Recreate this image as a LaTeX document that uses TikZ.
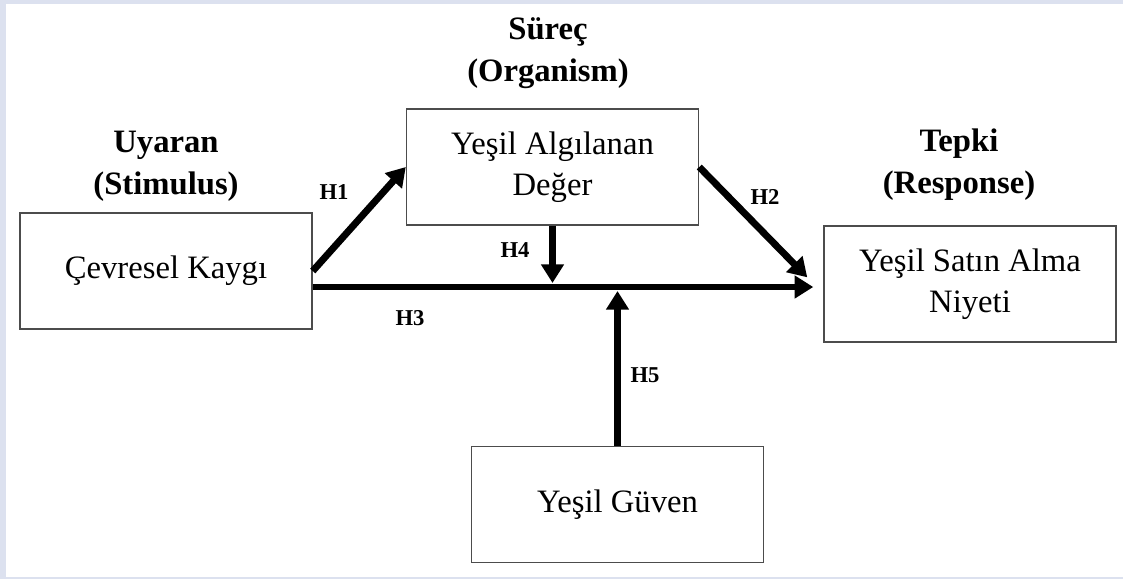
\documentclass[tikz,border=0pt]{standalone}
\usepackage{fontspec}
\setmainfont{Liberation Serif}
\usetikzlibrary{arrows.meta, calc}

\definecolor{framebg}{HTML}{DCE1EF}

\tikzset{
  box/.style = {draw = black!70, line width = 1.1pt, fill = white, align = center,
                inner sep = 0pt, minimum width = 219pt, minimum height = 87pt,
                font = \fontsize{24.5}{30.5}\selectfont},
  stage/.style = {align = center, font = \fontsize{24.5}{31.5}\selectfont\bfseries},
  hyp/.style = {line width = 5.2pt, -{Triangle[length = 14pt, width = 16.5pt]}},
  hlabel/.style = {font = \fontsize{17}{20}\selectfont\bfseries}
}

\begin{document}
\begin{tikzpicture}[x = 0.75pt, y = -0.75pt]

% frame
\useasboundingbox (0, 0) rectangle (1123, 579);
\fill[framebg] (0, 0) rectangle (1123, 579);
\fill[white] (6, 4) rectangle (1123, 577);

% the stages
\node[stage] (uyaran) at (166, 166) {Uyaran\\(Stimulus)};
\node[stage] (surec)  at (548, 53)  {Süreç\\(Organism)};
\node[stage] (tepki)  at (959, 165) {Tepki\\(Response)};

% the constructs
\node[box] (cevre) at (166, 271)   {Çevresel Kaygı};
\node[box] (deger) at (552.5, 167) {Yeşil Algılanan\\Değer};
\node[box] (niyet) at (970, 284)   {Yeşil Satın Alma\\Niyeti};
\node[box] (guven) at (617.5, 504.5) {Yeşil Güven};

% the paths
\draw[hyp] (cevre.east) -- (deger.west);
\draw[hyp] (deger.east) -- ([xshift = -12pt, yshift = 5pt]niyet.west);
\draw[hyp] ([yshift = -12pt]cevre.east) coordinate (h3s)
  -- ([xshift = -7.5pt]h3s -| niyet.west);
\draw[hyp] (deger.south) -- ($(deger.south |- h3s) + (0, -4)$);
\draw[hyp] (guven.north) -- ($(guven.north |- h3s) + (0, 4)$);

% hypothesis labels
\node[hlabel] (h1) at (334, 192) {H1};
\node[hlabel] (h2) at (765, 197) {H2};
\node[hlabel] (h3) at (410, 318) {H3};
\node[hlabel] (h4) at (515, 250) {H4};
\node[hlabel] (h5) at (645, 375) {H5};

\end{tikzpicture}
\end{document}
